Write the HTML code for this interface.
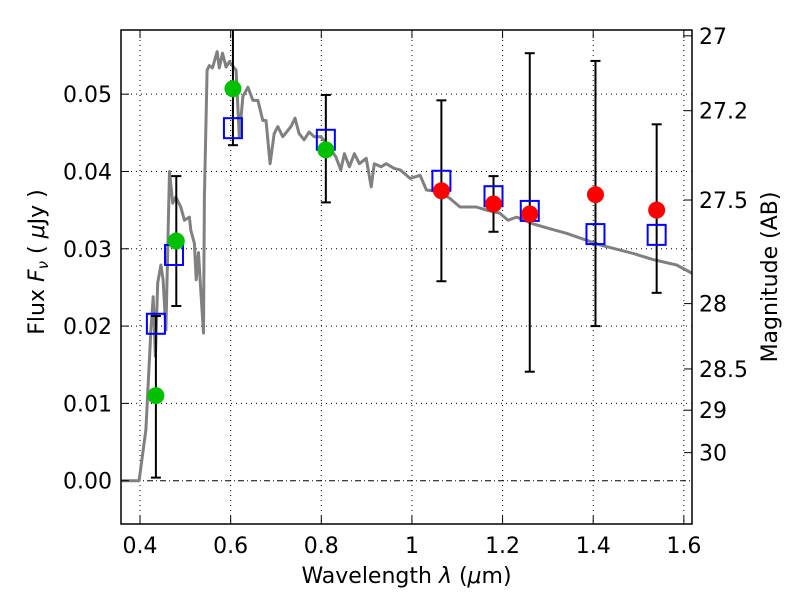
<!DOCTYPE html>
<html><head><meta charset="utf-8"><style>
body{margin:0;background:#fff;}
svg text{font-family:"DejaVu Sans","Liberation Sans",sans-serif;fill:#000;}
</style></head><body>
<svg id="chart" width="800" height="600" xmlns="http://www.w3.org/2000/svg">
<rect width="800" height="600" fill="#fff"/>
<g id="grid"></g>
<g id="spec"></g>
<g id="marks"></g>
<g id="axes"></g>
</svg>
<script>
const specWave=[0.36,0.398,0.413,0.424,0.429,0.434,0.439,0.446,0.451,0.457,0.465,0.472,0.479,0.490,0.498,0.509,0.512,0.520,0.524,0.529,0.533,0.540,0.542,0.548,0.553,0.560,0.570,0.575,0.582,0.590,0.597,0.612,0.619,0.627,0.638,0.649,0.660,0.671,0.678,0.687,0.696,0.704,0.715,0.726,0.733,0.742,0.751,0.762,0.773,0.784,0.799,0.814,0.832,0.843,0.851,0.862,0.873,0.884,0.899,0.910,0.917,0.932,0.943,0.961,0.974,0.996,1.018,1.032,1.062,1.084,1.106,1.142,1.164,1.194,1.212,1.231,1.268,1.304,1.341,1.415,1.488,1.532,1.584,1.613,1.618];
const specFlux=[0,0,0.0066,0.0195,0.0238,0.0161,0.0256,0.0279,0.0260,0.0195,0.0400,0.0359,0.0367,0.0354,0.0337,0.0341,0.0324,0.0307,0.0260,0.0295,0.0256,0.0191,0.0367,0.0531,0.0537,0.0534,0.0555,0.0534,0.0553,0.0535,0.0542,0.0531,0.0445,0.0497,0.0509,0.0492,0.0492,0.0466,0.0466,0.0410,0.0449,0.0458,0.0445,0.0453,0.0458,0.0469,0.0449,0.0441,0.0451,0.0445,0.0445,0.0434,0.0419,0.0402,0.0423,0.0406,0.0423,0.0410,0.0417,0.0380,0.0410,0.0406,0.0410,0.0404,0.0402,0.0391,0.0395,0.0376,0.0374,0.0365,0.0354,0.0354,0.0350,0.0346,0.0337,0.0341,0.0332,0.0326,0.0320,0.0305,0.0294,0.0286,0.0279,0.0270,0.0268];
const greenWave=[0.435,0.48,0.605,0.81];
const greenFlux=[0.011,0.031,0.0507,0.0428];
const redWave=[1.065,1.18,1.26,1.405,1.54];
const redFlux=[0.0375,0.0358,0.0345,0.037,0.035];
const sqWave=[0.435,0.475,0.605,0.81,1.065,1.18,1.26,1.405,1.54];
const sqFlux=[0.0203,0.0292,0.0456,0.0441,0.0388,0.0368,0.0349,0.0319,0.0318];
const errWave=[0.435,0.48,0.605,0.81,1.065,1.18,1.26,1.405,1.54];
const errLo=[0.0004,0.0226,0.0434,0.036,0.0258,0.0322,0.0141,0.0200,0.0243];
const errHi=[0.0213,0.0394,0.07,0.0499,0.0492,0.0394,0.0553,0.0543,0.0461];
const xTicks=[0.4,0.6,0.8,1.0,1.2,1.4,1.6];
const xTickLabels=["0.4","0.6","0.8","1","1.2","1.4","1.6"];
const yTicks=[0,0.01,0.02,0.03,0.04,0.05];
const yTickLabels=["0.00","0.01","0.02","0.03","0.04","0.05"];
const magTicks=[27,27.2,27.5,28,28.5,29,30];
const magTickLabels=["27","27.2","27.5","28","28.5","29","30"];

const L=121,R=692,T=30,B=524,X0=0.358,X1=1.618,Y0=-0.0056,Y1=0.0583;
const xs=v=>L+(v-X0)/(X1-X0)*(R-L);
const ys=v=>B-(v-Y0)/(Y1-Y0)*(B-T);
const magToFlux=m=>Math.pow(10,-0.4*(m-23.9));
const NS="http://www.w3.org/2000/svg";
const FS=22;
function mk(tag,attrs,parent){const e=document.createElementNS(NS,tag);for(const k in attrs)e.setAttribute(k,attrs[k]);parent.appendChild(e);return e;}
const grid=document.getElementById('grid'),spec=document.getElementById('spec'),marks=document.getElementById('marks'),axes=document.getElementById('axes');

xTicks.forEach((t,i)=>{
  const g=mk('line',{x1:xs(t),x2:xs(t),y1:T,y2:B,stroke:'#000','stroke-width':1,'stroke-dasharray':'1,4'},grid);
  
  
  mk('line',{x1:xs(t),x2:xs(t),y1:B,y2:B-8,stroke:'#000'},axes);
  mk('line',{x1:xs(t),x2:xs(t),y1:T,y2:T+8,stroke:'#000'},axes);
  const tx=mk('text',{x:xs(t),y:B+29,'text-anchor':'middle','font-size':FS},axes);
  tx.textContent=xTickLabels[i];
  
  
});
yTicks.forEach((t,i)=>{
  const g=mk('line',{x1:L,x2:R,y1:ys(t),y2:ys(t),stroke:'#000','stroke-width':1,'stroke-dasharray':t===0?'6,3,1,3':'1,4'},grid);
  
  
  mk('line',{x1:L,x2:L+8,y1:ys(t),y2:ys(t),stroke:'#000'},axes);
  const tx=mk('text',{x:L-9,y:ys(t)+8,'text-anchor':'end','font-size':FS},axes);
  tx.textContent=yTickLabels[i];
  
  
});
magTicks.forEach((m,i)=>{
  const y=ys(magToFlux(m));
  mk('line',{x1:R,x2:R-8,y1:y,y2:y,stroke:'#000'},axes);
  const tx=mk('text',{x:R+7,y:y+8,'font-size':FS},axes);
  tx.textContent=magTickLabels[i];
  
  
});

const pts=specWave.map((w,i)=>xs(w).toFixed(1)+','+ys(specFlux[i]).toFixed(1)).join(' ');
const pl=mk('polyline',{points:pts,fill:'none',stroke:'#808080','stroke-width':3,'stroke-linejoin':'round'},spec);



errWave.forEach((w,i)=>{
  const x=xs(w),y1=Math.max(ys(errHi[i]),T),y2=ys(errLo[i]);
  const g=mk('g',{},marks);
  
  
  mk('line',{x1:x,x2:x,y1:y1,y2:y2,stroke:'#000','stroke-width':2},g);
  if(ys(errHi[i])>=T) mk('line',{x1:x-5,x2:x+5,y1:y1,y2:y1,stroke:'#000','stroke-width':2},g);
  mk('line',{x1:x-5,x2:x+5,y1:y2,y2:y2,stroke:'#000','stroke-width':2},g);
});
sqWave.forEach((w,i)=>{
  const s=mk('rect',{x:xs(w)-9,y:ys(sqFlux[i])-10,width:18,height:20,fill:'none',stroke:'#0000ff','stroke-width':2},marks);
  
  
});
greenWave.forEach((w,i)=>{
  const c=mk('circle',{cx:xs(w),cy:ys(greenFlux[i]),r:8.5,fill:'#00c000'},marks);
  
  
});
redWave.forEach((w,i)=>{
  const c=mk('circle',{cx:xs(w),cy:ys(redFlux[i]),r:8.5,fill:'#ff0000'},marks);
  
  
});

const fr=mk('rect',{x:L,y:T,width:R-L,height:B-T,fill:'none',stroke:'#000','stroke-width':1.5},axes);


const xl=mk('text',{x:(L+R)/2,y:583,'text-anchor':'middle','font-size':FS},axes);
xl.innerHTML='Wavelength  <tspan font-style="italic">λ</tspan> (<tspan font-style="italic">μ</tspan>m)';


const yl=mk('text',{x:0,y:0,'text-anchor':'middle','font-size':FS,transform:'translate(44,262) rotate(-90)'},axes);
yl.innerHTML='Flux  <tspan font-style="italic">F</tspan><tspan font-size="15" dy="4" font-style="italic">ν</tspan><tspan dy="-4">  ( </tspan><tspan font-style="italic">μ</tspan>Jy )';


const rl=mk('text',{x:0,y:0,'text-anchor':'middle','font-size':FS,transform:'translate(777,277) rotate(-90)'},axes);
rl.textContent='Magnitude (AB)';


</script>
</body></html>
